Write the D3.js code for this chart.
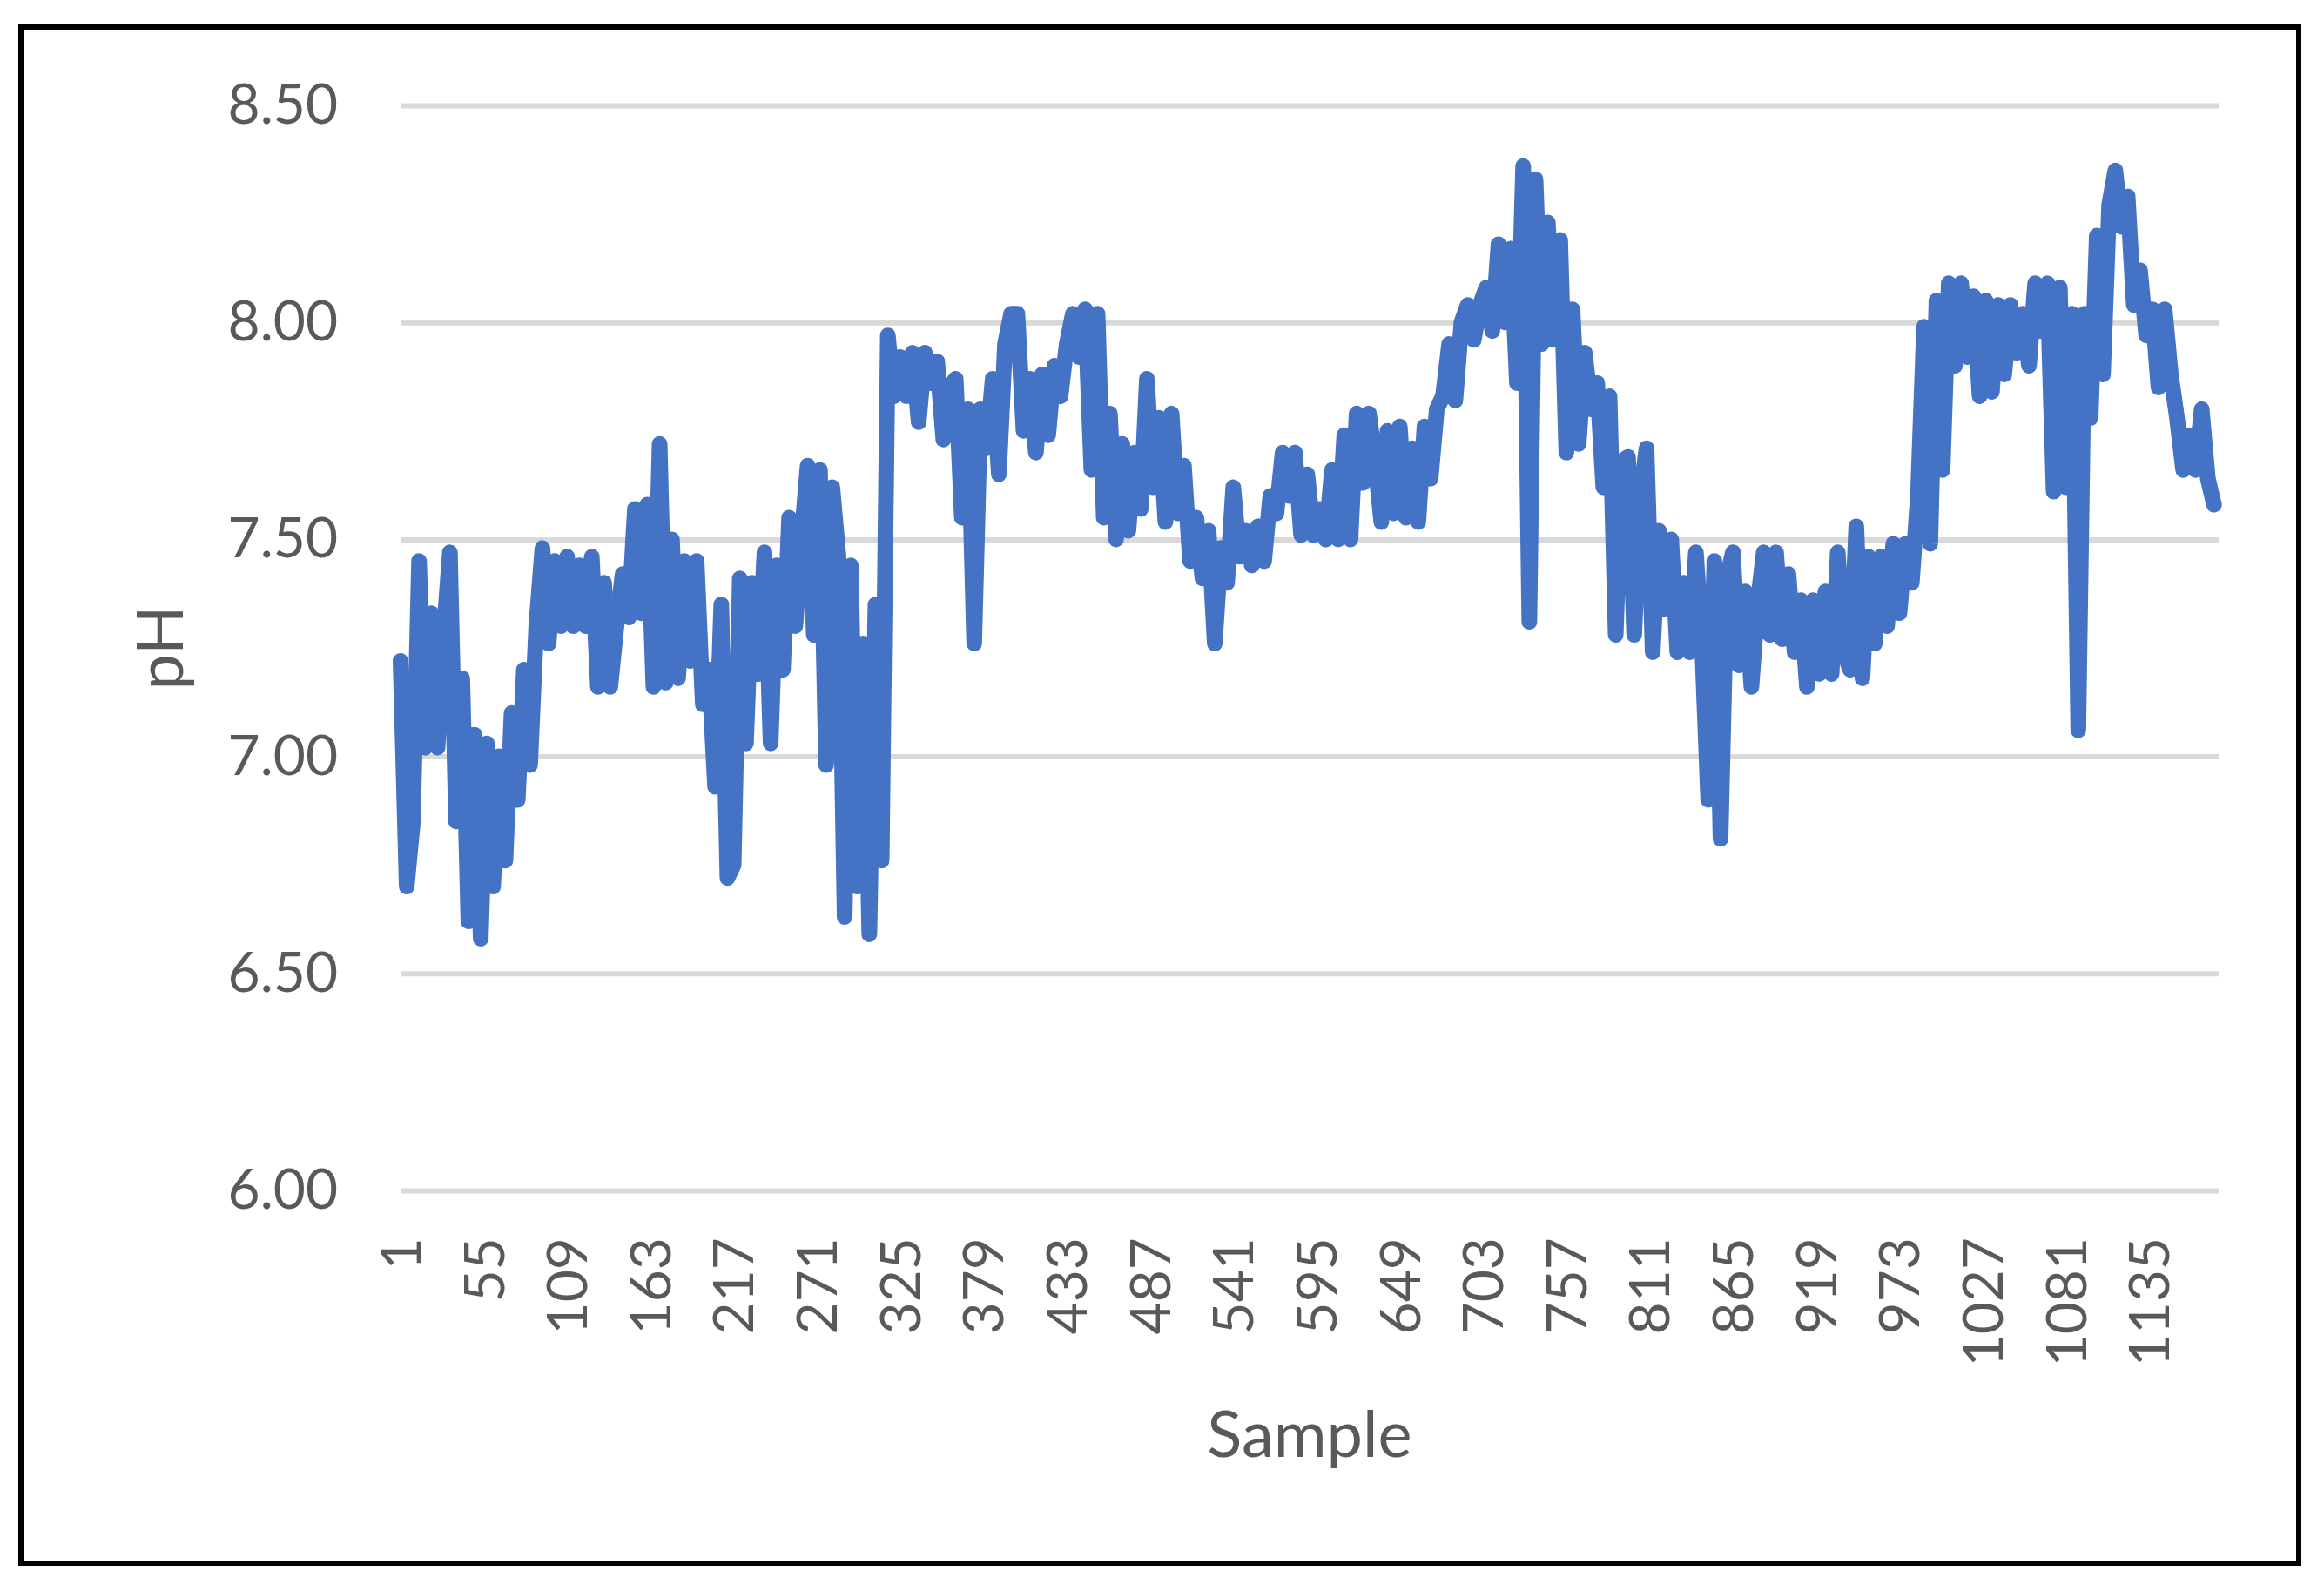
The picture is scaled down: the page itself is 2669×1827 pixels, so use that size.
<!DOCTYPE html>
<html><head><meta charset="utf-8">
<script src="https://cdn.jsdelivr.net/npm/d3@7"></script>
<style>html,body{margin:0;padding:0;background:#fff;} svg{display:block;}</style>
</head><body>
<script>
// pH readings, one value every 4th sample
const phFrom1 = [7.22,6.70,6.85,7.45,7.02,7.33,7.02,7.28,7.47,6.85,7.18,6.62,7.05,6.58,7.03,6.70,7.00,6.76,7.10,6.90,7.20,6.98,7.30,7.48,7.26,7.45,7.30,7.46,7.30,7.44,7.30,7.46,7.16,7.40,7.16,7.30,7.42,7.32,7.57,7.33,7.58,7.16,7.72,7.17,7.50,7.18,7.45,7.22,7.45,7.12];
const phFrom201 = [7.20,6.93,7.35,6.72,6.75,7.41,7.03,7.40,7.19,7.47,7.03,7.44,7.20,7.55,7.30,7.50,7.67,7.28,7.66,6.98,7.62,7.46,6.63,7.44,6.70,7.26,6.59,7.35,6.76,7.97,7.83,7.92,7.83,7.93,7.77,7.93,7.86,7.91,7.73,7.85,7.87,7.55,7.80,7.26,7.80,7.71,7.87,7.65,7.95,8.02];
const phFrom401 = [8.02,7.75,7.87,7.70,7.88,7.74,7.90,7.83,7.95,8.02,7.92,8.03,7.66,8.02,7.55,7.79,7.50,7.72,7.52,7.70,7.57,7.87,7.62,7.78,7.54,7.79,7.56,7.67,7.45,7.55,7.41,7.52,7.26,7.48,7.40,7.62,7.46,7.52,7.44,7.53,7.45,7.60,7.56,7.70,7.60,7.70,7.51,7.65,7.51];
const phFrom597 = [7.57,7.50,7.66,7.50,7.74,7.50,7.79,7.63,7.79,7.68,7.54,7.75,7.56,7.76,7.55,7.71,7.54,7.76,7.64,7.80,7.83,7.95,7.82,8.00,8.04,7.96,8.04,8.08,7.98,8.18,8.00,8.17,7.86,8.36,7.31,8.33,7.95,8.23,7.96,8.19,7.70,8.03,7.72,7.93,7.80,7.86,7.62,7.83,7.28,7.68];
const phFrom797 = [7.69,7.28,7.60,7.71,7.24,7.52,7.34,7.50,7.24,7.40,7.24,7.47,7.26,6.90,7.45,6.81,7.41,7.47,7.21,7.38,7.16,7.35,7.47,7.28,7.47,7.27,7.42,7.24,7.36,7.16,7.36,7.19,7.38,7.19,7.47,7.24,7.20,7.53,7.18,7.46,7.26,7.46,7.30,7.49,7.33,7.49,7.40,7.60,7.99];
const phFrom993 = [7.49,8.05,7.66,8.09,7.90,8.09,7.92,8.06,7.83,8.05,7.84,8.04,7.88,8.04,7.93,8.02,7.90,8.09,7.98,8.09,7.61,8.08,7.62,8.02,7.06,8.02,7.78,8.20,7.88,8.27,8.35,8.22,8.29,8.04,8.12,7.97,8.03,7.85,8.03,7.88,7.78,7.66,7.74,7.66,7.80,7.64,7.58];
const segmentStarts = [1, 201, 401, 597, 797, 993];
const sampleStep = 4;
const sampleCount = 1180;
const xTickLabels = [1,55,109,163,217,271,325,379,433,487,541,595,649,703,757,811,865,919,973,1027,1081,1135];
const yTickValues = [6.00,6.50,7.00,7.50,8.00,8.50];
const xTitle = "Sample";
const yTitle = "pH";

(function () {
const segments = [phFrom1, phFrom201, phFrom401, phFrom597, phFrom797, phFrom993];
const data = [];
segments.forEach((arr, k) => arr.forEach((v, i) => data.push({sample: segmentStarts[k] + i * sampleStep, ph: v})));

const W = 2669, H = 1827;
const plotLeft = 460, plotRight = 2548, plotTop = 121, plotBottom = 1367;
const font = "Lato, 'Open Sans', sans-serif";
const textColor = "#595959";

const svg = d3.select("body").append("svg").attr("width", W).attr("height", H);
svg.append("rect").attr("width", W).attr("height", H).attr("fill", "#fff");
svg.append("rect").attr("x", 24).attr("y", 31).attr("width", 2616).attr("height", 1764)
  .attr("fill", "none").attr("stroke", "#000").attr("stroke-width", 6);

const x = d3.scaleLinear().domain([1, sampleCount]).range([plotLeft, plotRight]);
const y = d3.scaleLinear().domain([6, 8.5]).range([plotBottom, plotTop]);

const yAxis = d3.axisLeft(y).tickValues(yTickValues).tickSize(-(plotRight - plotLeft)).tickPadding(72).tickFormat(d3.format(".2f"));
const gy = svg.append("g").attr("transform", `translate(${plotLeft},0)`).call(yAxis);
gy.select(".domain").remove();
gy.selectAll(".tick line").attr("stroke", "#d9d9d9").attr("stroke-width", 6);
gy.selectAll(".tick text").attr("fill", textColor).style("font-family", font).style("font-size", "64px");

const xAxis = d3.axisBottom(x).tickValues(xTickLabels).tickSize(0).tickFormat(d3.format("d"));
const gx = svg.append("g").attr("transform", `translate(0,${plotBottom})`).call(xAxis);
gx.select(".domain").remove();
gx.selectAll(".tick text")
  .attr("transform", "rotate(-90)")
  .attr("x", -54).attr("y", 0).attr("dy", "0.35em")
  .attr("text-anchor", "end")
  .attr("fill", textColor).style("font-family", font).style("font-size", "64px");

const line = d3.line().x(d => x(d.sample)).y(d => y(d.ph));
svg.append("path").datum(data).attr("d", line)
  .attr("fill", "none").attr("stroke", "#4472C4").attr("stroke-width", 18)
  .attr("stroke-linejoin", "round").attr("stroke-linecap", "round");

svg.append("text").attr("x", (plotLeft + plotRight) / 2).attr("y", 1673).attr("text-anchor", "middle")
  .attr("fill", textColor).style("font-family", font).style("font-size", "74px").text(xTitle);
svg.append("text").attr("transform", `translate(184,${(plotTop + plotBottom) / 2}) rotate(-90)`).attr("dy", "0.35em")
  .attr("text-anchor", "middle").attr("fill", textColor).style("font-family", font).style("font-size", "74px").text(yTitle);
})();
</script>
</body></html>
